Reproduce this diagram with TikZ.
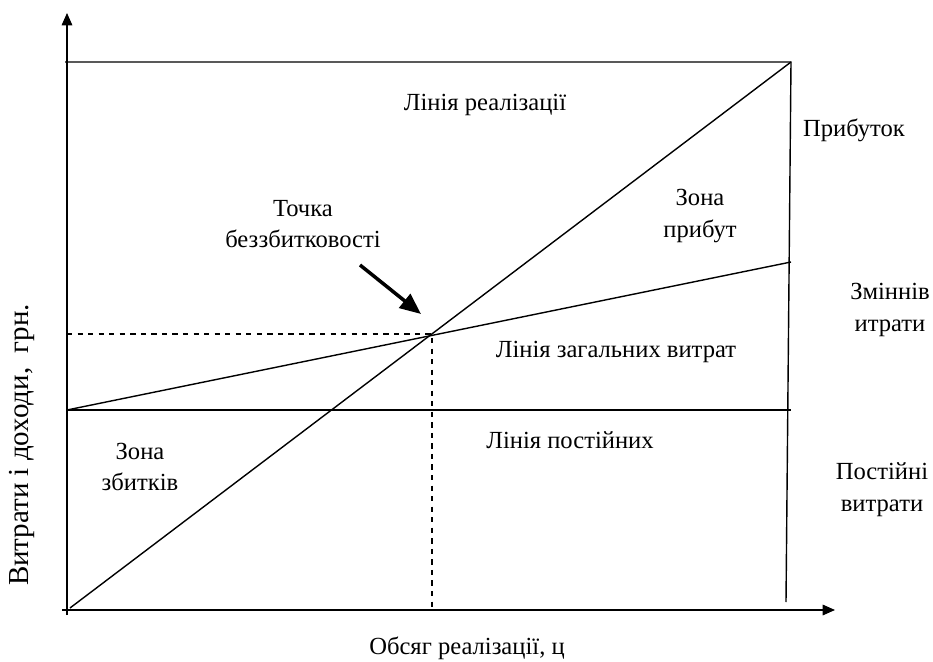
\documentclass[tikz,border=0pt]{standalone}
\usepackage{fontspec}
\setmainfont{Liberation Serif}
\usepackage{tikz}
\usetikzlibrary{arrows.meta}

\begin{document}
\begin{tikzpicture}[x=0.02cm, y=-0.02cm, line width=0.8pt,
        every node/.style={font=\fontsize{14}{18}\selectfont, align=center, inner sep=0pt},
        axis/.style={-{Triangle[length=7pt, width=6pt]}}]
                \useasboundingbox (0,0) rectangle (933,662);
                \coordinate (O) at (67,608);
                \coordinate (ytop) at (67,13);
                \coordinate (ybot) at (67,615);
                \coordinate (xend) at (835,610);
                \coordinate (tl) at (65,62);
                \coordinate (tr) at (791,62);
                \coordinate (br) at (786,602);
                \coordinate (s0) at (70,608);
                \coordinate (f0) at (67,410);
                \coordinate (f1) at (791,410);
                \coordinate (c1) at (791,262);
                \coordinate (bep) at (432,334);
                \coordinate (dl) at (67,334);
                \coordinate (db) at (432,608);

                \draw[axis] (ybot) -- (ytop);
                \draw[axis] (62,610) -- (xend);
                \draw (tl) -- (tr) -- (br);
                \draw (s0) -- (tr);
                \draw (f0) -- (c1);
                \draw (f0) -- (f1);
                \draw[dashed] (dl) -- (bep) -- (db);

                \node (sales) at (485,105) {Лінія реалізації};
                \node (profit) at (854,130) {Прибуток};
                \node (point) at (303,224) {Точка\\беззбитковості};
                \node (zprofit) at (700,216) {Зона\\прибут};
                \node (varc) at (890,310) {Змiннів\\итрати};
                \node (total) at (616,352) {Лінія загальних витрат};
                \node (zloss) at (140,467) {Зона\\збитків};
                \node (fixed) at (570,440) {Лінія постійних};
                \node (fixc) at (882,490) {Постійні\\витрати};
                \node[rotate=90, font=\fontsize{16.5}{20}\selectfont] (ylab) at (22,445) {Витрати і доходи,~~грн.};
                \node (xlab) at (467,648) {Обсяг реалізації, ц};

                \draw[line width=2pt, -{Triangle[length=12pt, width=10pt]}] (360,265) -- (421,314);
            \end{tikzpicture}
\end{document}
